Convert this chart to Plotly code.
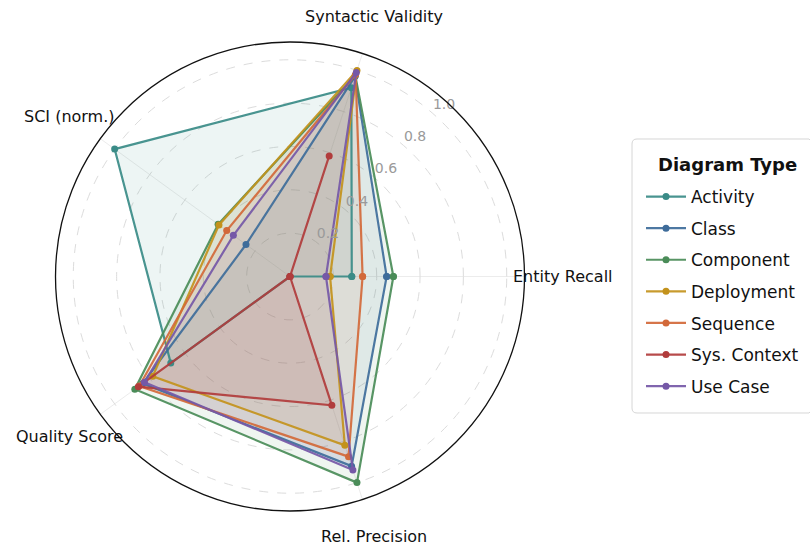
import plotly.graph_objects as go
import math

# ---------------- data ----------------
categories = ["Entity Recall", "Syntactic Validity", "SCI (norm.)", "Quality Score", "Rel. Precision"]
series_names = ["Activity", "Class", "Component", "Deployment", "Sequence", "Sys. Context", "Use Case"]

activity     = [0.285, 0.916, 1.000, 0.680, 0.000]
class_       = [0.446, 0.970, 0.251, 0.840, 0.920]
component    = [0.477, 0.975, 0.410, 0.885, 1.000]
deployment   = [0.185, 1.000, 0.405, 0.783, 0.819]
sequence     = [0.335, 0.980, 0.361, 0.860, 0.874]
sys_context  = [0.000, 0.585, 0.000, 0.865, 0.625]
use_case     = [0.166, 0.990, 0.323, 0.830, 0.939]

radial_ticks = [0.2, 0.4, 0.6, 0.8, 1.0]
radial_tick_labels = ["0.2", "0.4", "0.6", "0.8", "1.0"]
legend_title = "Diagram Type"

colors = ["#3a8b87", "#3e6c9a", "#4a8c58", "#c3921c", "#d2693a", "#b13c3c", "#7558a7"]
values = [activity, class_, component, deployment, sequence, sys_context, use_case]

# ---------------- layout geometry ----------------
W, H = 810, 544
cx, cy = 290.0, 276.5      # polar center in px
R = 234.5                  # outer radius in px
r_max = 1.082
label_R = 273.0

n = len(categories)
angles = [i * 360.0 / n for i in range(n)]


def rgba(hex_color, a):
    h = hex_color.lstrip("#")
    r, g, b = int(h[0:2], 16), int(h[2:4], 16), int(h[4:6], 16)
    return f"rgba({r},{g},{b},{a})"


fig = go.Figure()

# fills (no legend)
for name, vals, col in zip(series_names, values, colors):
    fig.add_trace(go.Scatterpolar(
        r=vals + [vals[0]], theta=angles + [angles[0]],
        mode="none", fill="toself", fillcolor=rgba(col, 0.09),
        showlegend=False, hoverinfo="skip",
    ))

# lines + markers
for name, vals, col in zip(series_names, values, colors):
    fig.add_trace(go.Scatterpolar(
        r=vals + [vals[0]], theta=angles + [angles[0]],
        mode="lines+markers", name=name, legendgroup=name,
        line=dict(color=rgba(col, 0.92), width=2.2),
        marker=dict(color=col, size=7),
    ))

# radial tick labels
fig.add_trace(go.Scatterpolar(
    r=[v + 0.062 for v in radial_ticks], theta=[48] * len(radial_ticks),
    mode="text", text=radial_tick_labels,
    textfont=dict(family="DejaVu Sans", size=14, color="#9a9a9a"),
    showlegend=False, hoverinfo="skip",
))

# category labels
annotations = []
for cat, ang in zip(categories, angles):
    a = math.radians(ang)
    px = cx + label_R * math.cos(a)
    py = (H - cy) + label_R * math.sin(a)
    annotations.append(dict(
        x=px / W, y=py / H, xref="paper", yref="paper",
        text=cat, showarrow=False, xanchor="center", yanchor="middle",
        font=dict(family="DejaVu Sans", size=16, color="#111111"),
    ))

# legend frame + title
box_l, box_r, box_t, box_b, rad = 632, 814, 139, 413, 5
annotations.append(dict(
    x=727 / W, y=1 - 164 / H, xref="paper", yref="paper",
    text=f"<b>{legend_title}</b>", showarrow=False, xanchor="center", yanchor="middle",
    font=dict(family="DejaVu Sans", size=18, color="#111111"),
))


def px2(x, y):
    return f"{x / W:.5f},{1 - y / H:.5f}"


frame_path = (
    f"M {px2(box_l + rad, box_t)} L {px2(box_r - rad, box_t)} "
    f"L {px2(box_r, box_t + rad)} L {px2(box_r, box_b - rad)} "
    f"L {px2(box_r - rad, box_b)} L {px2(box_l + rad, box_b)} "
    f"Q {px2(box_l, box_b)} {px2(box_l, box_b - rad)} "
    f"L {px2(box_l, box_t + rad)} Q {px2(box_l, box_t)} {px2(box_l + rad, box_t)} Z"
)

fig.update_layout(
    width=W, height=H,
    margin=dict(l=0, r=0, t=0, b=0),
    paper_bgcolor="white",
    plot_bgcolor="white",
    font=dict(family="DejaVu Sans", color="#111111"),
    annotations=annotations,
    shapes=[dict(type="path", xref="paper", yref="paper", path=frame_path,
                 line=dict(color="#d6d6d6", width=1), fillcolor="white", layer="below")],
    polar=dict(
        domain=dict(x=[(cx - R) / W, (cx + R) / W], y=[(H - cy - R) / H, (H - cy + R) / H]),
        bgcolor="white",
        radialaxis=dict(
            range=[0, r_max], tickvals=radial_ticks, showticklabels=False,
            showline=False, ticks="", gridcolor="#dcdcdc", griddash="dash", gridwidth=1,
        ),
        angularaxis=dict(
            thetaunit="degrees", rotation=0, direction="counterclockwise",
            tickvals=angles, showticklabels=False, ticks="",
            showline=True, linecolor="#111111", linewidth=1.3,
            gridcolor="#ececec", gridwidth=1,
        ),
    ),
    legend=dict(
        x=641 / W, y=1 - 179 / H, xanchor="left", yanchor="top",
        bgcolor="rgba(0,0,0,0)", borderwidth=0,
        font=dict(family="DejaVu Sans", size=17, color="#111111"),
        itemwidth=40,
        traceorder="grouped", tracegroupgap=6.5,
    ),
)

fig.write_html("out.html", config={"displayModeBar": False},
               post_script="document.body.style.margin='0';")
